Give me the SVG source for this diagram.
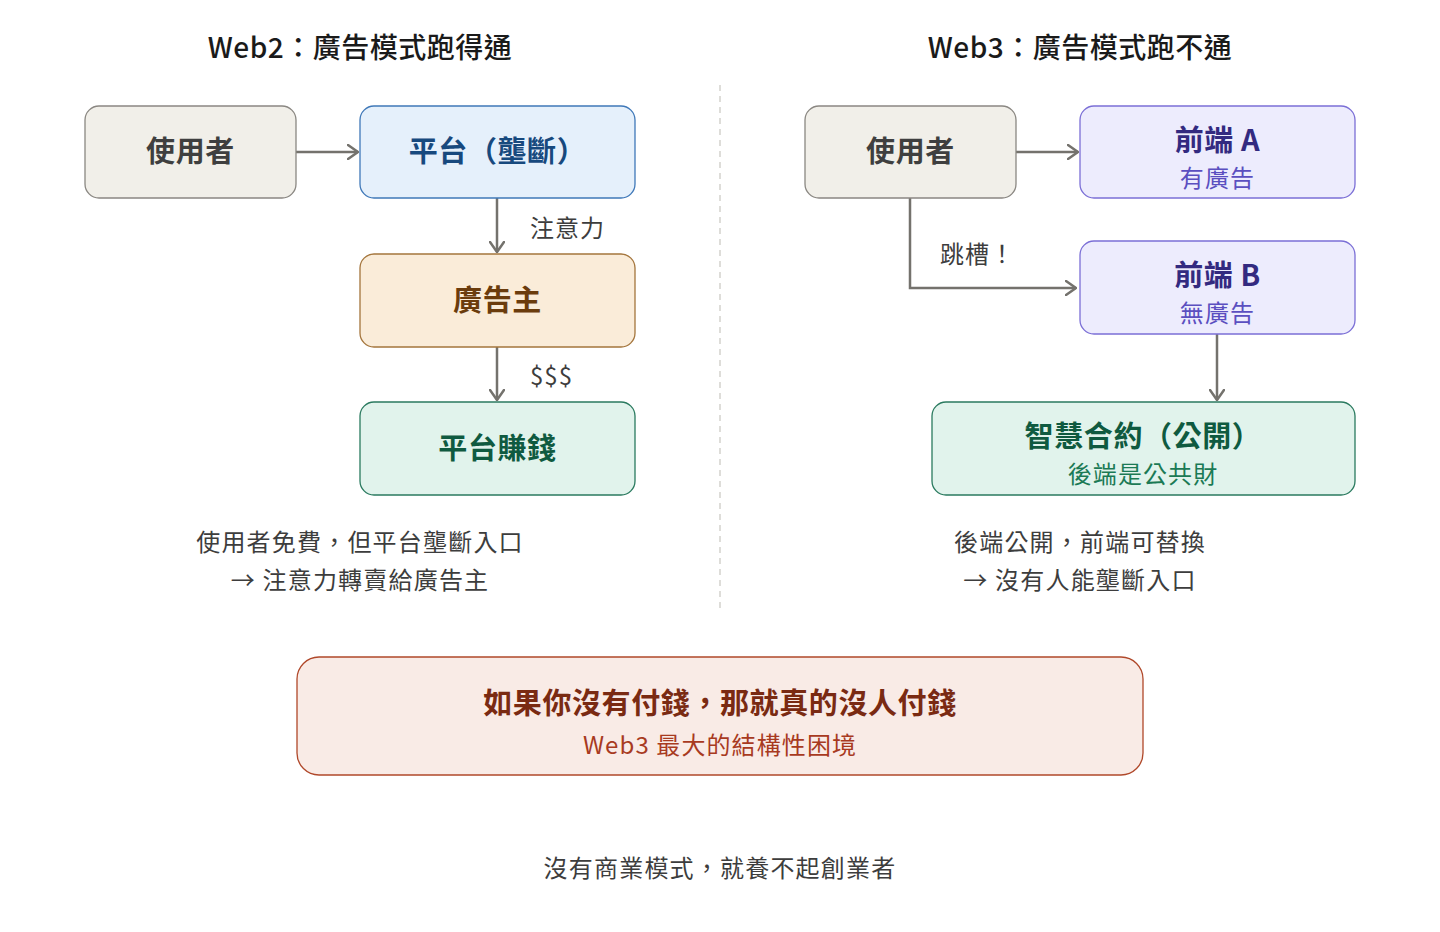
<svg xmlns="http://www.w3.org/2000/svg" width="1440" height="932" viewBox="0 0 1440 932">
<defs>
<marker id="arr" viewBox="0 0 12 16" refX="11" refY="8" markerWidth="12" markerHeight="16" markerUnits="userSpaceOnUse" orient="auto">
<path d="M1,1 L11,8 L1,15" fill="none" stroke="#74726d" stroke-width="2.5" stroke-linecap="round" stroke-linejoin="round"/>
</marker>
<style>
text{font-family:"Noto Sans CJK TC","Noto Sans",sans-serif;text-anchor:middle}
.title{font-size:28px;font-weight:500;fill:#1a1a1a;letter-spacing:0.5px}
.big{font-size:29px;font-weight:700;letter-spacing:0.6px}
.sub{font-size:24px;font-weight:400;letter-spacing:1.1px}
.lbl{font-size:24px;fill:#3d3d3d;text-anchor:start;letter-spacing:1px}
.cap{font-size:24px;fill:#3d3d3d;letter-spacing:1.2px}
.edge{fill:none;stroke:#74726d;stroke-width:2.5}
.gray rect{fill:#f1efe9;stroke:#8a8782;stroke-width:1.3}
.gray text{fill:#3f3f3f}
.blue rect{fill:#e5f0fb;stroke:#3f78b8;stroke-width:1.3}
.blue text{fill:#17497e}
.orange rect{fill:#faecd9;stroke:#a4753c;stroke-width:1.3}
.orange text{fill:#6b3c0d}
.green rect{fill:#e1f3ec;stroke:#2a7a5f;stroke-width:1.3}
.green .big{fill:#0f5a40}
.green .sub{fill:#1b7a55}
.purple rect{fill:#edecfd;stroke:#7b6fd6;stroke-width:1.3}
.purple .big{fill:#332a80}
.purple .sub{fill:#5b4fc0}
.red rect{fill:#f9ebe6;stroke:#b0482a;stroke-width:1.3}
.red .big{fill:#7a2a12}
.red .sub{fill:#a83a1f}
</style>
</defs>
<rect width="1440" height="932" fill="#ffffff"/>
<text class="title" x="360" y="58">Web2：廣告模式跑得通</text>
<text class="title" x="1080" y="58">Web3：廣告模式跑不通</text>
<line x1="720" y1="85" x2="720" y2="612" stroke="#d4d2cd" stroke-width="1.5" stroke-dasharray="6,5"/>
<g id="connectors">
<path class="edge" d="M296,152 L358,152" marker-end="url(#arr)"/>
<path class="edge" d="M497,198 L497,252" marker-end="url(#arr)"/>
<path class="edge" d="M497,347 L497,400" marker-end="url(#arr)"/>
<path class="edge" d="M1016,152 L1078,152" marker-end="url(#arr)"/>
<path class="edge" d="M910,198 L910,288 L1076,288" marker-end="url(#arr)"/>
<path class="edge" d="M1217,334 L1217,400" marker-end="url(#arr)"/>
<text class="lbl" x="530" y="237">注意力</text>
<text class="lbl" x="530" y="385">$$$</text>
<text class="lbl" x="940" y="263">跳槽！</text>
</g>
<g id="user-left" class="gray"><rect x="85" y="106" width="211" height="92" rx="14"/><text class="big" x="190.5" y="162">使用者</text></g>
<g id="platform" class="blue"><rect x="360" y="106" width="275" height="92" rx="14"/><text class="big" x="497.5" y="162">平台（壟斷）</text></g>
<g id="advertiser" class="orange"><rect x="360" y="254" width="275" height="93" rx="14"/><text class="big" x="497.5" y="311">廣告主</text></g>
<g id="profit" class="green"><rect x="360" y="402" width="275" height="93" rx="14"/><text class="big" x="497.5" y="459">平台賺錢</text></g>
<g id="caption-left">
<text class="cap" x="360" y="551">使用者免費，但平台壟斷入口</text>
<text class="cap" x="360" y="589">→ 注意力轉賣給廣告主</text>
</g>
<g id="user-right" class="gray"><rect x="805" y="106" width="211" height="92" rx="14"/><text class="big" x="910.5" y="162">使用者</text></g>
<g id="frontend-a" class="purple"><rect x="1080" y="106" width="275" height="92" rx="14"/><text class="big" x="1217.5" y="151">前端 A</text><text class="sub" x="1217.5" y="187">有廣告</text></g>
<g id="frontend-b" class="purple"><rect x="1080" y="241" width="275" height="93" rx="14"/><text class="big" x="1217.5" y="286">前端 B</text><text class="sub" x="1217.5" y="322">無廣告</text></g>
<g id="contract" class="green"><rect x="932" y="402" width="423" height="93" rx="14"/><text class="big" x="1143" y="447">智慧合約（公開）</text><text class="sub" x="1143" y="483">後端是公共財</text></g>
<g id="caption-right">
<text class="cap" x="1080" y="551">後端公開，前端可替換</text>
<text class="cap" x="1080" y="589">→ 沒有人能壟斷入口</text>
</g>
<g id="conclusion" class="red"><rect x="297" y="657" width="846" height="118" rx="22"/><text class="big" x="720" y="714">如果你沒有付錢，那就真的沒人付錢</text><text class="sub" x="720" y="754">Web3 最大的結構性困境</text></g>
<text class="cap" x="720" y="877">沒有商業模式，就養不起創業者</text>
</svg>
